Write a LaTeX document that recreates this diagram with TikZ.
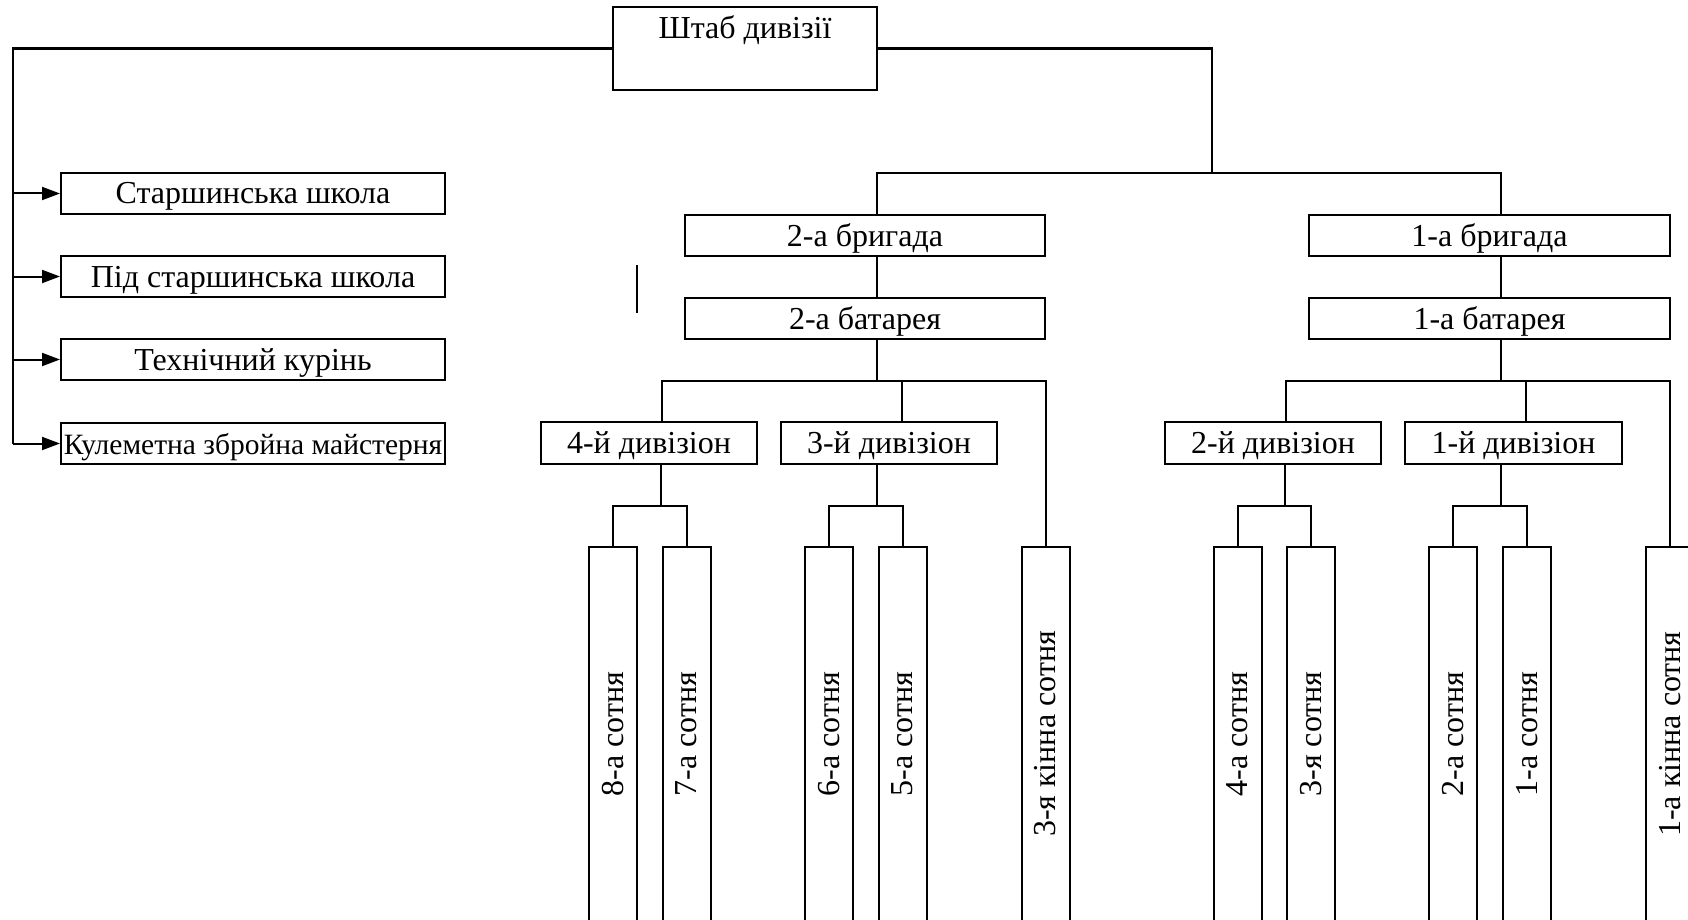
\documentclass[tikz,border=0pt]{standalone}
\usepackage{fontspec}
\setmainfont{Liberation Serif}
\usepackage{tikz}
\usetikzlibrary{arrows.meta}

\begin{document}
\begin{tikzpicture}[x=1pt, y=-1pt, line width=2pt,
  unit/.style={draw, rectangle, inner sep=0pt, font=\fontsize{32}{36}\selectfont},
  flat/.style={unit, text height=24pt, text depth=3pt},
  wide/.style={flat, minimum width=384pt, minimum height=41pt},
  brig/.style={flat, minimum width=360pt, minimum height=41pt},
  div/.style={flat, minimum width=216pt, minimum height=42pt},
  sot/.style={unit, minimum width=48pt, minimum height=374pt},
  arr/.style={-{Triangle[length=18pt,width=13pt]}}]
\useasboundingbox (0,0) rectangle (1688,920);

\node[unit, minimum width=264pt, text height=32pt, text depth=51pt] (hq) at (745,48.5) {Штаб дивізії};

\node[wide] (school) at (253,193.5) {Старшинська школа};
\node[wide] (subschool) at (253,276.5) {Під старшинська школа};
\node[wide] (tech) at (253,359.5) {Технічний курінь};
\node[wide, font=\fontsize{29.5}{34}\selectfont] (mg) at (253,443.5) {Кулеметна збройна майстерня};

\coordinate (lt) at (13,48.5);
\draw[line width=2.5pt] (hq.west) -- (lt) -- (lt |- mg.west);
\foreach \n in {school,subschool,tech,mg}
  \draw[arr] (lt |- \n.west) -- (\n.west);

\node[brig] (brig2) at (865,235.5) {2-а бригада};
\node[brig] (bat2) at (865,318.5) {2-а батарея};
\node[brig, minimum width=361pt] (brig1) at (1489.5,235.5) {1-а бригада};
\node[brig, minimum width=361pt] (bat1) at (1489.5,318.5) {1-а батарея};

\coordinate (hub) at (1212,173);
\draw[line width=2.5pt] (hq.east) -| (hub);
\draw ([xshift=12pt]brig2.north) |- (hub) -| ([xshift=11.5pt]brig1.north);
\draw ([xshift=12pt]brig2.south) -- ([xshift=12pt]bat2.north);
\draw ([xshift=11.5pt]brig1.south) -- ([xshift=11.5pt]bat1.north);

\draw (637,265) -- (637,313);

\node[div] (div4) at (649,443) {4-й дивізіон};
\node[div] (div3) at (889,443) {3-й дивізіон};
\node[div] (div2) at (1273,443) {2-й дивізіон};
\node[div, minimum width=217pt] (div1) at (1513.5,443) {1-й дивізіон};

\node[sot] (s8) at (613,734) {\rotatebox{90}{8-а сотня}};
\node[sot] (s7) at (686.5,734) {\rotatebox{90}{7-а сотня}};
\node[sot] (s6) at (829,734) {\rotatebox{90}{6-а сотня}};
\node[sot] (s5) at (902.5,734) {\rotatebox{90}{5-а сотня}};
\node[sot] (kin3) at (1045.5,734) {\rotatebox{90}{3-я кінна сотня}};
\node[sot] (s4) at (1237.5,734) {\rotatebox{90}{4-а сотня}};
\node[sot] (s3) at (1311,734) {\rotatebox{90}{3-я сотня}};
\node[sot] (s2) at (1453,734) {\rotatebox{90}{2-а сотня}};
\node[sot] (s1) at (1527,734) {\rotatebox{90}{1-а сотня}};
\node[sot] (kin1) at (1670,734) {\rotatebox{90}{1-а кінна сотня}};

\draw ([xshift=12pt]bat2.south) -- ++(0,41) coordinate (b2);
\draw ([xshift=13pt]div4.north) |- (b2) -| (kin3.north);
\coordinate (d3) at ([xshift=13pt]div3.north);
\draw (d3) -- (d3 |- b2);

\draw ([xshift=11.5pt]bat1.south) -- ++(0,41) coordinate (b1);
\draw ([xshift=13pt]div2.north) |- (b1) -| (kin1.north);
\coordinate (d1) at ([xshift=12.5pt]div1.north);
\draw (d1) -- (d1 |- b1);

\draw ([xshift=12pt]div4.south) -- ++(0,41) coordinate (f4);
\draw (s8.north) |- (f4) -| (s7.north);
\draw ([xshift=-12pt]div3.south) -- ++(0,41) coordinate (f3);
\draw (s6.north) |- (f3) -| (s5.north);
\draw ([xshift=12pt]div2.south) -- ++(0,41) coordinate (f2);
\draw (s4.north) |- (f2) -| (s3.north);
\draw ([xshift=-12.5pt]div1.south) -- ++(0,41) coordinate (f1);
\draw (s2.north) |- (f1) -| (s1.north);
\end{tikzpicture}
\end{document}
